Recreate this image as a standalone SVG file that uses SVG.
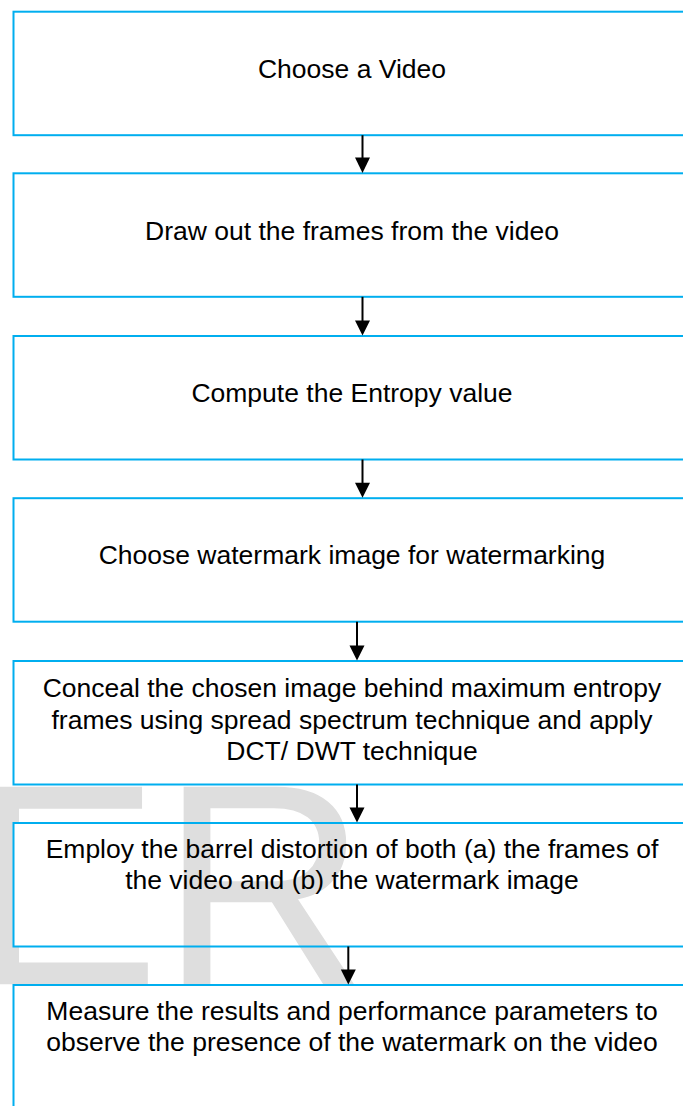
<svg xmlns="http://www.w3.org/2000/svg" width="683" height="1106" viewBox="0 0 683 1106">
  <style>
    .box { fill: none; stroke: #00AEEF; stroke-width: 2; }
    .lbl { font-family: "Liberation Sans", Arial, sans-serif; font-size: 26.5px; fill: #000; text-anchor: middle; }
    .wm { font-family: "Liberation Sans", Arial, sans-serif; font-size: 287px; fill: #DEDEDE; }
    .conn line { stroke: #000; stroke-width: 2; }
    .conn polygon { fill: #000; }
  </style>
  <defs>
    <clipPath id="wmClip" clipPathUnits="userSpaceOnUse">
      <rect x="-50" y="0" width="800" height="823"/>
      <rect x="-50" y="947" width="800" height="200"/>
      <rect x="-50" y="0" width="63.5" height="1106"/>
    </clipPath>
  </defs>
  <rect x="0" y="0" width="683" height="1106" fill="#fff"/>

  <g id="watermark">
    <text class="wm" x="-31.3" y="984.3" clip-path="url(#wmClip)">E</text>
    <text class="wm" x="160.1" y="984.3">R</text>
  </g>

  <g id="node1">
    <rect class="box" x="13.5" y="11.7" width="700" height="123.5"/>
    <text class="lbl" x="352" y="77.5">Choose a Video</text>
  </g>
  <g id="node2">
    <rect class="box" x="13.5" y="173.3" width="700" height="123.5"/>
    <text class="lbl" x="352" y="240">Draw out the frames from the video</text>
  </g>
  <g id="node3">
    <rect class="box" x="13.5" y="336" width="700" height="123.5"/>
    <text class="lbl" x="352" y="402">Compute the Entropy value</text>
  </g>
  <g id="node4">
    <rect class="box" x="13.5" y="498.2" width="700" height="123.5"/>
    <text class="lbl" x="352" y="564.2">Choose watermark image for watermarking</text>
  </g>
  <g id="node5">
    <rect class="box" x="13.5" y="661" width="700" height="123.5"/>
    <text class="lbl" x="352" y="697.3">Conceal the chosen image behind maximum entropy</text>
    <text class="lbl" x="352" y="728.8">frames using spread spectrum technique and apply</text>
    <text class="lbl" x="352" y="760.3">DCT/ DWT technique</text>
  </g>
  <g id="node6">
    <rect class="box" x="13.5" y="823" width="700" height="123.5"/>
    <text class="lbl" x="352" y="857.7">Employ the barrel distortion of both (a) the frames of</text>
    <text class="lbl" x="352" y="888.5">the video and (b) the watermark image</text>
  </g>
  <g id="node7">
    <rect class="box" x="13.5" y="985" width="700" height="200"/>
    <text class="lbl" x="352" y="1020">Measure the results and performance parameters to</text>
    <text class="lbl" x="352" y="1050.5">observe the presence of the watermark on the video</text>
  </g>

  <g id="connectors" class="conn">
    <line x1="362.5" y1="135.2" x2="362.5" y2="158"/>
    <polygon points="355,157.5 370,157.5 362.5,173"/>
    <line x1="362.5" y1="296.8" x2="362.5" y2="321"/>
    <polygon points="355,320.5 370,320.5 362.5,335.5"/>
    <line x1="362.5" y1="459.5" x2="362.5" y2="483"/>
    <polygon points="355,482.7 370,482.7 362.5,497.8"/>
    <line x1="357" y1="621.7" x2="357" y2="646"/>
    <polygon points="349.5,645.5 364.5,645.5 357,660.6"/>
    <line x1="357" y1="784.5" x2="357" y2="808"/>
    <polygon points="349.5,807.5 364.5,807.5 357,822.6"/>
    <line x1="348.3" y1="946.5" x2="348.3" y2="970"/>
    <polygon points="340.8,969.5 355.8,969.5 348.3,984.6"/>
  </g>
</svg>
